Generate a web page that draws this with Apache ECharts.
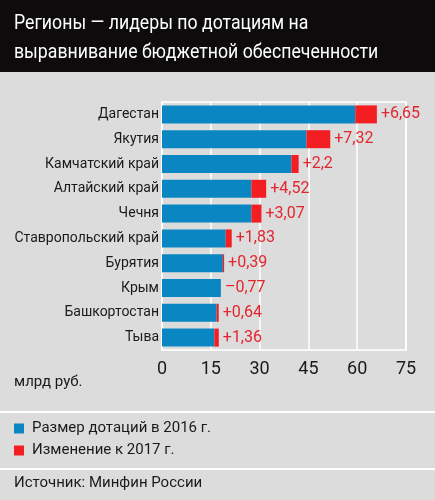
<!DOCTYPE html>
<html>
<head>
<meta charset="utf-8">
<script src="https://cdn.jsdelivr.net/npm/echarts@6/dist/echarts.min.js"></script>
<style>
  html, body { margin: 0; padding: 0; background: #dcdcdc; }
  #chart { width: 435px; height: 500px; }
</style>
</head>
<body>
<div id="chart"></div>
<script>
// регионы и значения, млрд руб.
const regions = ['Дагестан', 'Якутия', 'Камчатский край', 'Алтайский край', 'Чечня',
  'Ставропольский край', 'Бурятия', 'Крым', 'Башкортостан', 'Тыва'];
const base2016 = [59.4, 44.4, 39.8, 27.5, 27.5, 19.6, 18.7, 18.1, 16.8, 16.1];
const change2017 = [6.65, 7.32, 2.2, 4.52, 3.07, 1.83, 0.39, -0.77, 0.64, 1.36];
const xTicks = [0, 15, 30, 45, 60, 75];

const FONT = "Roboto, 'Liberation Sans', sans-serif";
const BLUE = '#0a87c2';
const RED = '#f41e22';

function fmtChange(v) {
  const s = Math.abs(v).toString().replace('.', ',');
  return (v < 0 ? '–' : '+') + s;
}

const chart = echarts.init(document.getElementById('chart'), null, { renderer: 'canvas' });

chart.setOption({
  backgroundColor: '#dcdcdc',
  animation: false,
  textStyle: { fontFamily: FONT },
  graphic: [
    { type: 'rect', z: -1, shape: { x: 0, y: 0, width: 435, height: 72 }, style: { fill: '#0d0b0b' } },
    // заголовок — узкий шрифт имитируем сжатием по горизонтали
    {
      type: 'text', x: 14, y: 9, scaleX: 0.885, originX: 0,
      style: {
        text: 'Регионы — лидеры по дотациям на\nвыравнивание бюджетной обеспеченности',
        font: '20px ' + FONT, fill: '#fff', lineHeight: 29,
      },
    },
    { type: 'text', left: 14, top: 375, style: { text: 'млрд руб.', font: '15px ' + FONT, fill: '#1a1a1a' } },
    { type: 'line', shape: { x1: 0, y1: 412, x2: 435, y2: 412 }, style: { stroke: '#fff', lineWidth: 2 } },
    { type: 'line', shape: { x1: 0, y1: 469, x2: 435, y2: 469 }, style: { stroke: '#fff', lineWidth: 2 } },
    { type: 'text', left: 14, top: 476, style: { text: 'Источник: Минфин России', font: '15px ' + FONT, fill: '#1a1a1a' } },
  ],
  legend: {
    orient: 'vertical',
    left: 14, top: 421, padding: 0,
    icon: 'rect',
    itemWidth: 10, itemHeight: 10, itemGap: 7,
    textStyle: { fontFamily: FONT, fontSize: 15, color: '#1a1a1a', padding: [0, 0, 0, 3] },
    data: ['Размер дотаций в 2016 г.', 'Изменение к 2017 г.'],
  },
  grid: {
    show: true, left: 162, top: 102, width: 244, height: 248,
    borderColor: '#fff', borderWidth: 1.5, backgroundColor: 'transparent',
    containLabel: false, outerBoundsMode: 'none',
  },
  xAxis: {
    type: 'value', min: xTicks[0], max: xTicks[xTicks.length - 1], interval: 15,
    axisLine: { show: false }, axisTick: { show: false },
    splitLine: { lineStyle: { color: '#fff', width: 1.5 } },
    axisLabel: { fontFamily: FONT, fontSize: 18, color: '#1a1a1a', margin: 10 },
  },
  yAxis: {
    type: 'category', inverse: true, data: regions,
    axisLine: { show: false }, axisTick: { show: false },
    axisLabel: { fontFamily: FONT, fontSize: 14, color: '#1a1a1a', margin: 3 },
  },
  series: [
    {
      name: 'Размер дотаций в 2016 г.', type: 'bar', stack: 'a', barWidth: 18,
      itemStyle: { color: BLUE }, data: base2016,
    },
    {
      name: 'Изменение к 2017 г.', type: 'bar', stack: 'a', barWidth: 18,
      itemStyle: { color: RED },
      data: change2017.map(v => Math.max(v, 0)),
      label: {
        show: true, position: 'right', distance: 4,
        fontFamily: FONT, fontSize: 16, color: '#e3262d',
        formatter: p => fmtChange(change2017[p.dataIndex]),
      },
    },
  ],
});
</script>
</body>
</html>
